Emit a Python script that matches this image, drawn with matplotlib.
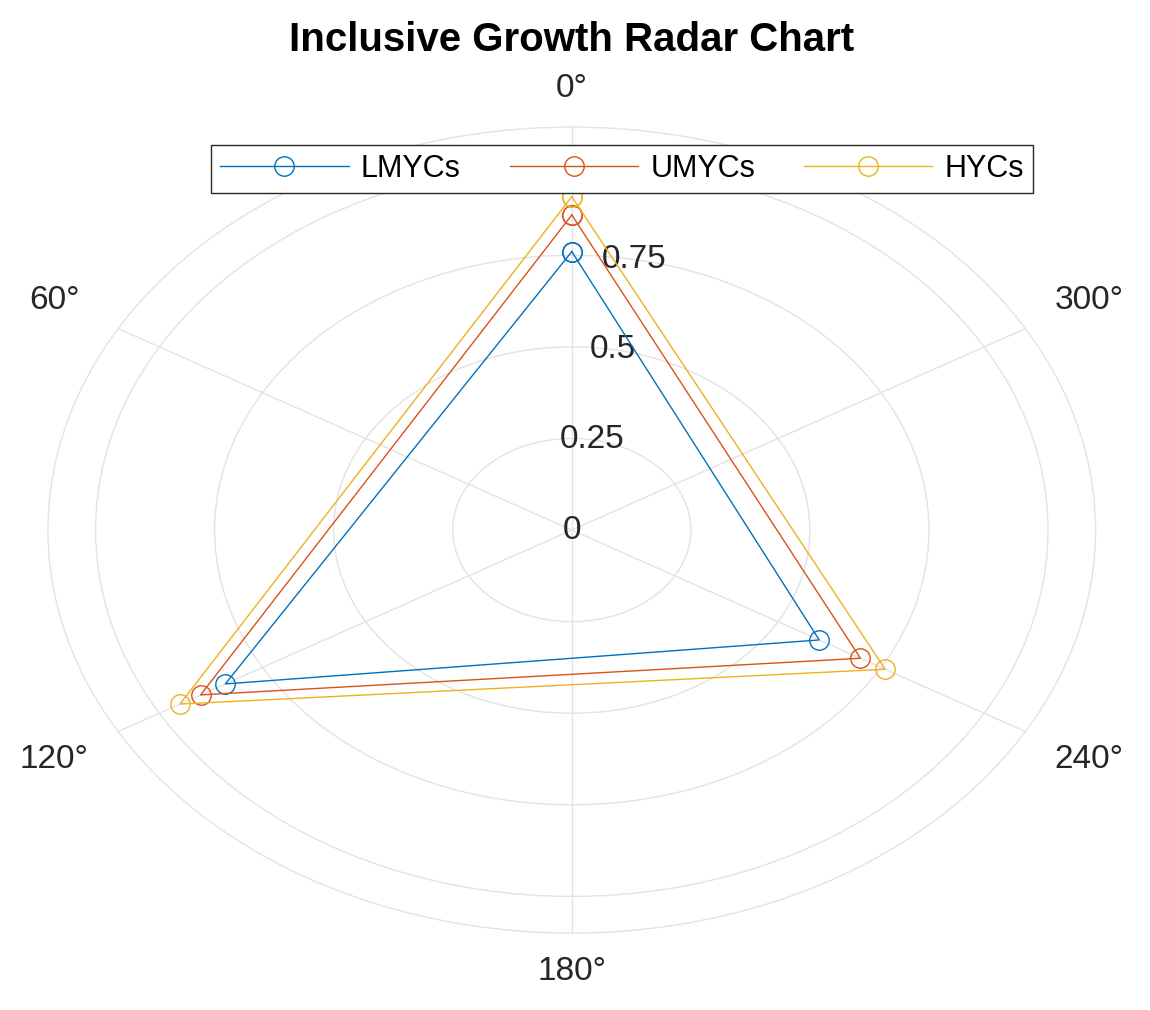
"""Inclusive Growth Radar Chart — polar plot, 0° at top, counter-clockwise."""

import numpy as np
import matplotlib
matplotlib.use("Agg")
import matplotlib.pyplot as plt

plt.rcParams["font.family"] = ["Liberation Sans", "DejaVu Sans"]

# ---------- data ----------
angles_deg = [0, 120, 240]
groups = ["LMYCs", "UMYCs", "HYCs"]
lmycs = [0.76, 0.84, 0.60]
umycs = [0.86, 0.90, 0.70]
hycs = [0.91, 0.95, 0.76]
colors = ["#0072BD", "#D95319", "#EDB120"]

r_ticks = [0, 0.25, 0.5, 0.75, 1.0]
r_tick_labels = ["0", "0.25", "0.5", "0.75", ""]  # "1" sits under the legend
theta_ticks = [0, 60, 120, 180, 240, 300]
theta_labels = ["0°", "60°", "120°", "180°", "240°", "300°"]

R_MAX = 1.1
TXT = "#262626"

# ---------- figure ----------
fig = plt.figure(figsize=(11.5, 10.1), dpi=100)
ax = fig.add_axes([0.0417, 0.0762, 0.911, 0.798], projection="polar")
ax.set_aspect("auto")  # the original is stretched horizontally
ax.set_theta_zero_location("N")
ax.set_theta_direction(1)

theta = np.deg2rad(angles_deg + [angles_deg[0]])
for name, vals, c in zip(groups, [lmycs, umycs, hycs], colors):
    ax.plot(theta, vals + [vals[0]], color=c, lw=1.0, marker="o",
            markersize=14, markerfacecolor="none", markeredgewidth=1.0,
            label=name)

ax.set_rlim(0, R_MAX)
ax.set_rticks(r_ticks)
ax.set_yticklabels(r_tick_labels)
ax.set_rlabel_position(-10)
ax.tick_params(axis="y", labelsize=24, labelcolor=TXT)
for lbl in ax.get_yticklabels():
    lbl.set_horizontalalignment("center")
    lbl.set_verticalalignment("center")

# theta labels sit a bit further out on the diagonals (MATLAB style)
ax.set_thetagrids(theta_ticks, [""] * len(theta_ticks))
for a, lab in zip(theta_ticks, theta_labels):
    off = 0.105 if a in (0, 180) else 0.155
    ax.text(np.deg2rad(a), R_MAX + off, lab, ha="center", va="center",
            fontsize=24, color=TXT, clip_on=False)

ax.grid(color="#e3e3e3", lw=1.0)
ax.spines["polar"].set_color("#e3e3e3")
ax.spines["polar"].set_linewidth(1.0)

fig.suptitle("Inclusive Growth Radar Chart", x=0.497, y=0.96, va="center",
             fontsize=29, fontweight="bold")

leg = fig.legend(loc="center", bbox_to_anchor=(0.541, 1 - 169 / 1010), ncol=3,
                 fontsize=22, handlelength=4.2, handletextpad=0.4,
                 columnspacing=1.6, numpoints=1, fancybox=False,
                 framealpha=1, edgecolor=TXT, borderpad=0.3)
leg.get_frame().set_linewidth(1.0)

fig.savefig("out.png", dpi=100)
